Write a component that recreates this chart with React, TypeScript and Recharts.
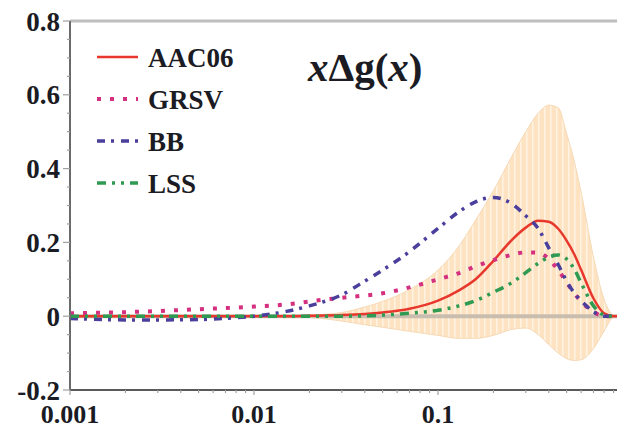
import { Area, ComposedChart, Line, ReferenceLine, XAxis, YAxis } from 'recharts'

const X_VALUES = [0.001, 0.002, 0.003, 0.005, 0.007, 0.01, 0.015, 0.02, 0.03, 0.04, 0.05, 0.07, 0.1, 0.13, 0.16, 0.2, 0.25, 0.3, 0.35, 0.4, 0.45, 0.5, 0.55, 0.6, 0.7, 0.8, 0.9, 1]
const AAC06 = [0, 0, 0, 0, 0, 0, 0, 0.001, 0.003, 0.006, 0.01, 0.02, 0.042, 0.07, 0.1, 0.15, 0.205, 0.24, 0.259, 0.256, 0.237, 0.205, 0.168, 0.125, 0.048, 0.008, 0, 0]
const GRSV = [0.008, 0.011, 0.014, 0.019, 0.022, 0.026, 0.032, 0.04, 0.05, 0.056, 0.062, 0.078, 0.1, 0.117, 0.135, 0.152, 0.166, 0.173, 0.172, 0.155, 0.125, 0.092, 0.062, 0.04, 0.012, 0, 0, 0]
const BB = [-0.006, -0.01, -0.01, -0.009, -0.006, 0, 0.013, 0.028, 0.058, 0.095, 0.125, 0.175, 0.238, 0.283, 0.31, 0.322, 0.306, 0.272, 0.238, 0.185, 0.14, 0.095, 0.063, 0.042, 0.012, 0, 0, 0]
const LSS = [0, 0, 0, 0, 0, 0, 0, 0, 0, 0.001, 0.003, 0.008, 0.016, 0.028, 0.042, 0.065, 0.09, 0.118, 0.143, 0.16, 0.166, 0.155, 0.128, 0.09, 0.028, 0.003, 0, 0]
const BAND_HIGH = [0, 0, 0, 0, 0, 0, 0, 0.003, 0.01, 0.025, 0.04, 0.072, 0.125, 0.19, 0.26, 0.34, 0.43, 0.5, 0.55, 0.572, 0.565, 0.495, 0.42, 0.335, 0.16, 0.045, 0.003, 0]
const BAND_LOW = [0, 0, 0, 0, 0, 0, 0, -0.003, -0.013, -0.023, -0.03, -0.041, -0.052, -0.06, -0.06, -0.052, -0.036, -0.032, -0.05, -0.077, -0.1, -0.115, -0.12, -0.118, -0.088, -0.04, -0.003, 0]

const X_MAJOR = [0.001, 0.01, 0.1, 1]
const X_MINOR = [0.002, 0.003, 0.004, 0.005, 0.006, 0.007, 0.008, 0.009, 0.02, 0.03, 0.04, 0.05, 0.06, 0.07, 0.08, 0.09, 0.2, 0.3, 0.4, 0.5, 0.6, 0.7, 0.8, 0.9]
const Y_MAJOR = [-0.2, 0, 0.2, 0.4, 0.6, 0.8]
const Y_MINOR = [-0.15, -0.1, -0.05, 0.05, 0.1, 0.15, 0.25, 0.3, 0.35, 0.45, 0.5, 0.55, 0.65, 0.7, 0.75]

const SERIES = [
  { key: 'aac06', name: 'AAC06', color: '#e8372c', dash: undefined, width: 2.5 },
  { key: 'grsv', name: 'GRSV', color: '#d4307f', dash: '4 9', width: 4 },
  { key: 'bb', name: 'BB', color: '#4a3f9c', dash: '8 6 3 7', width: 3.5 },
  { key: 'lss', name: 'LSS', color: '#2f9a52', dash: '9 6 3 6 3 6', width: 3.5 },
]

const FONT = '"Liberation Serif", "Times New Roman", serif'
const TEXT = '#1b1b24'

const data = X_VALUES.map((x, i) => ({
  x,
  aac06: AAC06[i],
  grsv: GRSV[i],
  bb: BB[i],
  lss: LSS[i],
  band: [BAND_LOW[i], BAND_HIGH[i]],
}))

function XTick({ x, y, payload }: any) {
  const major = X_MAJOR.includes(payload.value)
  return (
    <g>
      <line x1={x} x2={x} y1={y} y2={y + (major ? 5 : 3)} stroke="#a0a0a0" strokeWidth={1.2} />
      {major && (
        <text x={x} y={y + 33} textAnchor="middle" fontFamily={FONT} fontSize={26} fontWeight="bold" fill={TEXT}>
          {String(payload.value)}
        </text>
      )}
    </g>
  )
}

function YTick({ x, y, payload }: any) {
  const major = Y_MAJOR.includes(payload.value)
  return (
    <g>
      <line x1={x} x2={x - (major ? 7 : 3)} y1={y} y2={y} stroke="#a0a0a0" strokeWidth={1.2} />
      {major && (
        <text x={x - 10} y={y + 9.5} textAnchor="end" fontFamily={FONT} fontSize={27} fontWeight="bold" fill={TEXT}>
          {String(payload.value)}
        </text>
      )}
    </g>
  )
}

export default function App() {
  return (
    <div style={{ position: 'fixed', left: 0, top: 0, width: 617, height: 430, overflow: 'hidden', background: '#fff' }}>
      <svg width={0} height={0} style={{ position: 'absolute' }}>
        <defs>
          <pattern id="bandStripes" patternUnits="userSpaceOnUse" width={6} height={10}>
            <rect width={6} height={10} fill="#fde3c2" />
            <rect x={4} width={1.5} height={10} fill="#fff3e4" />
          </pattern>
        </defs>
      </svg>
      <ComposedChart width={640} height={430} data={data} margin={{ top: 21, right: 18, bottom: 0, left: 0 }}>
        <XAxis
          dataKey="x"
          type="number"
          scale="log"
          domain={[0.001, 1]}
          allowDataOverflow
          ticks={[...X_MAJOR, ...X_MINOR]}
          interval={0}
          tickSize={0}
          tickMargin={0}
          tickLine={false}
          tick={<XTick />}
          axisLine={{ stroke: '#5a5a5a', strokeWidth: 2 }}
          height={40}
        />
        <YAxis
          type="number"
          domain={[-0.2, 0.8]}
          allowDataOverflow
          ticks={[...Y_MAJOR, ...Y_MINOR]}
          interval={0}
          tickSize={0}
          tickMargin={0}
          tickLine={false}
          tick={<YTick />}
          axisLine={{ stroke: '#6a6a6a', strokeWidth: 2 }}
          width={70}
        />
        <ReferenceLine y={0.8} stroke="#bdbdbd" strokeWidth={3} />
        <Area
          dataKey="band"
          type="monotone"
          fill="url(#bandStripes)"
          fillOpacity={1}
          stroke="#f7d9b4"
          strokeWidth={1}
          isAnimationActive={false}
        />
        <ReferenceLine y={0} stroke="#c8bdae" strokeWidth={4} />
        {SERIES.map((s) => (
          <Line
            key={s.key}
            dataKey={s.key}
            name={s.name}
            type="monotone"
            stroke={s.color}
            strokeWidth={s.width}
            strokeDasharray={s.dash}
            dot={false}
            activeDot={false}
            isAnimationActive={false}
          />
        ))}
      </ComposedChart>
      <svg width={617} height={430} style={{ position: 'absolute', left: 0, top: 0, pointerEvents: 'none' }}>
        {SERIES.map((s, i) => {
          const cy = 57 + i * 42
          return (
            <g key={s.key}>
              <line x1={97} x2={138} y1={cy} y2={cy} stroke={s.color} strokeWidth={s.width} strokeDasharray={s.dash} />
              <text x={148} y={cy + 9.5} fontFamily={FONT} fontSize={27} fontWeight="bold" fill={TEXT}>
                {s.name}
              </text>
            </g>
          )
        })}
        <text x={308} y={81} fontFamily={FONT} fontSize={41} fontWeight="bold" fill={TEXT}>
          <tspan fontStyle="italic">x</tspan>Δg(<tspan fontStyle="italic">x</tspan>)
        </text>
      </svg>
    </div>
  )
}
